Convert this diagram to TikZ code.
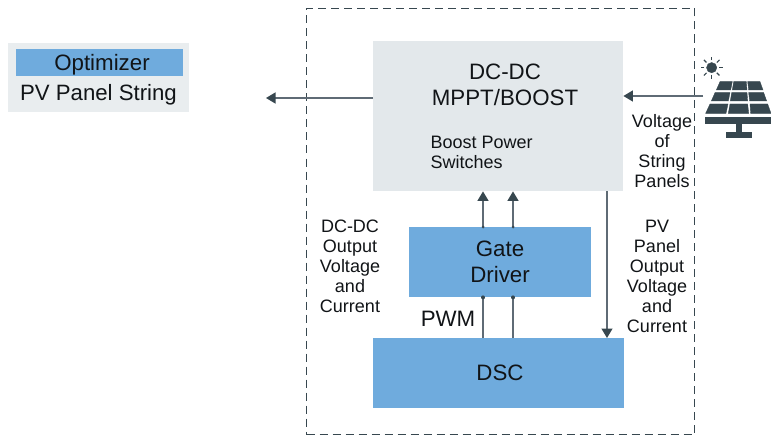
\documentclass[tikz,border=0pt]{standalone}
\usepackage{fontspec}
\setmainfont{Liberation Sans}
\usetikzlibrary{arrows.meta,calc}
\definecolor{blockblue}{HTML}{6FABDD}
\definecolor{blockgrey}{HTML}{E3E8EB}
\definecolor{inkdark}{HTML}{37474F}
\definecolor{linegrey}{HTML}{5F6B75}
\definecolor{txt}{HTML}{111417}
\tikzset{
  px/.style={x=1pt,y=-1pt},
  blockbox/.style={rectangle,inner sep=0pt,draw=none,anchor=north west,text=txt},
  bigtext/.style={inner sep=0pt,align=center,text=txt,font=\fontsize{22.3}{26}\selectfont},
  smalltext/.style={inner sep=0pt,align=center,text=txt,font=\fontsize{18}{20}\selectfont},
  arrowline/.style={draw=linegrey,line width=1.2pt,-{Triangle[length=9.5pt,width=11pt,color=inkdark]}},
  plainline/.style={draw=linegrey,line width=1.2pt},
  dotend/.style={circle,fill=inkdark,inner sep=0pt,minimum size=4pt},
  icon/.style={fill=inkdark,draw=inkdark,line width=0.35pt}
}
\begin{document}
\begin{tikzpicture}[px]
\useasboundingbox (0,0) rectangle (771,436);
\fill[white] (0,0) rectangle (771,436);
% legend
\node[blockbox,fill=blockgrey!80!white,minimum width=181pt,minimum height=69pt] (legend) at (8,43) {};
\node[blockbox,fill=blockblue,minimum width=167pt,minimum height=27pt] (legopt) at (16,49) {};
\node[bigtext] (optlabel) at (102,65) {Optimizer};
\node[bigtext,font=\fontsize{22.2}{26}\selectfont] (pvlabel) at (98.5,95) {PV Panel String};
% dashed frame
\node[blockbox,draw=inkdark,line width=1pt,dash pattern=on 8pt off 5pt,minimum width=388pt,minimum height=426pt] (frame) at (306,8) {};
% blocks
\node[blockbox,fill=blockgrey,minimum width=250pt,minimum height=150pt] (mppt) at (373,41) {};
\node[blockbox,fill=blockblue,minimum width=182pt,minimum height=70pt] (gate) at (409,227) {};
\node[blockbox,fill=blockblue,minimum width=251pt,minimum height=70pt] (dsc) at (373,338) {};
\node[bigtext] (mppttext) at (505,85) {DC-DC\\MPPT/BOOST};
\node[smalltext,align=left,anchor=west] (switches) at (430.5,152) {Boost Power\\Switches};
\node[bigtext] (gatetext) at (500,262) {Gate\\Driver};
\node[bigtext] (dsctext) at (500,373) {DSC};
\node[bigtext] (pwm) at (448,319) {PWM};
\node[smalltext] (lblout) at (350,266) {DC-DC\\Output\\Voltage\\and\\Current};
\node[smalltext] (lblpv) at (657,276) {PV\\Panel\\Output\\Voltage\\and\\Current};
\node[smalltext] (lblstr) at (662,151) {Voltage\\of\\String\\Panels};
% connector ends
\coordinate (outend) at (266,98);
\coordinate (inrow) at (703,96);
\coordinate (colA) at (483,0);
\coordinate (colB) at (513,0);
\coordinate (colC) at (607,0);
% connectors
\draw[arrowline] (mppt.west |- outend) -- (outend);
\draw[arrowline] (inrow) -- (mppt.east |- inrow);
\draw[arrowline] (gate.north -| colA) -- (mppt.south -| colA);
\draw[arrowline] (gate.north -| colB) -- (mppt.south -| colB);
\draw[plainline] (dsc.north -| colA) -- (gate.south -| colA);
\draw[plainline] (dsc.north -| colB) -- (gate.south -| colB);
\draw[arrowline] (mppt.south -| colC) -- (dsc.north -| colC);
\node[dotend,minimum size=3pt] (d1) at (gate.north -| colA) {};
\node[dotend,minimum size=3pt] (d2) at (gate.north -| colB) {};
\node[dotend] (d3) at (gate.south -| colA) {};
\node[dotend] (d4) at (gate.south -| colB) {};
% solar panel icon
\begin{scope}[shift={(690,50)},x=0.3333pt,y=-0.3333pt]
  \fill[icon] (65,53) circle (15.5);
  \foreach \a in {0,45,...,315}
    \draw[inkdark,line width=1.1pt] ($(65,53)+(\a:22)$) -- ($(65,53)+(\a:33)$);
  \fill[icon] (90,95) -- (127,95) -- (122,120) -- (79,120) -- cycle;
  \fill[icon] (131,95) -- (169,95) -- (171,120) -- (127,120) -- cycle;
  \fill[icon] (173,95) -- (210,95) -- (219,120) -- (176,120) -- cycle;
  \fill[icon] (75,128) -- (120,128) -- (115,153) -- (64,153) -- cycle;
  \fill[icon] (125,128) -- (171,128) -- (173,153) -- (121,153) -- cycle;
  \fill[icon] (176,128) -- (221,128) -- (230,153) -- (179,153) -- cycle;
  \fill[icon] (60,162) -- (114,162) -- (108,190) -- (47,190) -- cycle;
  \fill[icon] (120,162) -- (173,162) -- (176,190) -- (115,190) -- cycle;
  \fill[icon] (180,162) -- (233,162) -- (243,190) -- (182,190) -- cycle;
  \fill[icon] (47,203) rectangle (243,220);
  \fill[icon] (139,220) rectangle (155,248);
  \fill[icon] (110,247) rectangle (183,262);
\end{scope}
\end{tikzpicture}
\end{document}
